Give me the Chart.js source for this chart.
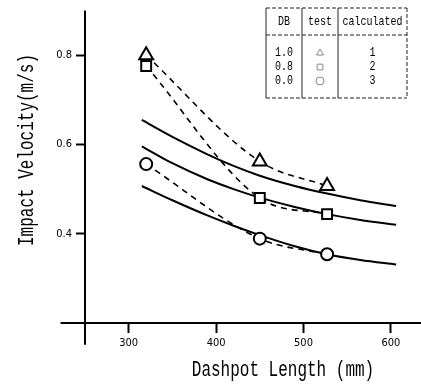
<!DOCTYPE html>
<html>
<head>
<meta charset="utf-8">
<script src="https://cdn.jsdelivr.net/npm/chart.js@4"></script>
<style>
  html, body { margin: 0; padding: 0; background: #fff; }
</style>
</head>
<body>
<canvas id="myChart" width="421" height="386"></canvas>
<script>
// measured points (dashed lines)
const testLength = [320, 450, 527];
const testDB10 = [0.800, 0.562, 0.507];
const testDB08 = [0.776, 0.480, 0.444];
const testDB00 = [0.556, 0.389, 0.354];

// calculated curves (solid lines)
const calcLength = [315, 350, 390, 420, 450, 490, 527, 565, 606];
const calc1 = [0.655, 0.617, 0.578, 0.552, 0.530, 0.507, 0.490, 0.475, 0.462];
const calc2 = [0.596, 0.558, 0.522, 0.500, 0.481, 0.460, 0.444, 0.431, 0.420];
const calc3 = [0.507, 0.475, 0.441, 0.418, 0.397, 0.372, 0.354, 0.341, 0.331];

const xTicks = [300, 400, 500, 600];
const yTicks = [0.4, 0.6, 0.8];

const tableHeader = ['DB', 'test', 'calculated'];
const tableDB = ['1.0', '0.8', '0.0'];
const tableMarks = ['triangle', 'rect', 'circle'];
const tableCalc = ['1', '2', '3'];

const mono = "'Liberation Mono', 'DejaVu Sans Mono', monospace";
const tickFont = { family: "'DejaVu Sans Condensed', 'Liberation Mono', monospace", size: 11 };

function pts(xs, ys) {
  return xs.map((x, i) => ({ x: x, y: ys[i] }));
}

function testSet(label, ys, style, radius) {
  return {
    label: label,
    data: pts(testLength, ys),
    showLine: true,
    borderColor: '#000',
    borderWidth: 1.6,
    borderDash: [6, 5],
    cubicInterpolationMode: 'monotone',
    pointStyle: style,
    pointRadius: radius,
    pointBorderWidth: 2,
    pointBorderColor: '#000',
    pointBackgroundColor: '#fff'
  };
}

function calcSet(label, ys) {
  return {
    label: label,
    data: pts(calcLength, ys),
    showLine: true,
    borderColor: '#000',
    borderWidth: 2,
    cubicInterpolationMode: 'monotone',
    pointRadius: 0
  };
}

// draws the axis lines, titles and the little table
const framePlugin = {
  id: 'frame',
  afterDraw(chart) {
    const ctx = chart.ctx;
    const xs = chart.scales.x;
    const ys = chart.scales.y;
    const x0 = xs.getPixelForValue(250);
    const y0 = ys.getPixelForValue(0.2);
    ctx.save();
    ctx.strokeStyle = '#000';
    ctx.lineWidth = 2;
    ctx.beginPath();
    ctx.moveTo(xs.getPixelForValue(222), y0);
    ctx.lineTo(chart.width, y0);
    ctx.moveTo(x0, ys.getPixelForValue(0.9));
    ctx.lineTo(x0, ys.getPixelForValue(0.151));
    ctx.stroke();

    // axis titles (tall, narrow type like the original)
    ctx.fillStyle = '#000';
    ctx.font = '16px ' + mono;
    ctx.textAlign = 'center';
    ctx.textBaseline = 'middle';
    ctx.save();
    ctx.translate(283, 370);
    ctx.scale(1, 1.4);
    ctx.fillText('Dashpot Length (mm)', 0, 0);
    ctx.restore();
    ctx.save();
    ctx.translate(27, 150);
    ctx.rotate(-Math.PI / 2);
    ctx.scale(1, 1.4);
    ctx.fillText('Impact Velocity(m/s)', 0, 0);
    ctx.restore();

    // table
    const L = 266, R = 407, T = 8, B = 98, H = 35;
    const c1 = 302, c2 = 338;
    ctx.lineWidth = 1;
    ctx.strokeStyle = '#222';
    ctx.setLineDash([4, 2]);
    ctx.beginPath();
    ctx.moveTo(L, T); ctx.lineTo(R, T);
    ctx.moveTo(L, H); ctx.lineTo(R, H);
    ctx.moveTo(L, B); ctx.lineTo(R, B);
    ctx.moveTo(R, T); ctx.lineTo(R, B);
    ctx.stroke();
    ctx.setLineDash([]);
    ctx.beginPath();
    ctx.moveTo(L, T); ctx.lineTo(L, B);
    ctx.moveTo(c1, T); ctx.lineTo(c1, B);
    ctx.moveTo(c2, T); ctx.lineTo(c2, B);
    ctx.stroke();

    ctx.font = '10px ' + mono;
    const cols = [(L + c1) / 2, (c1 + c2) / 2, (c2 + R) / 2];
    tableHeader.forEach((t, i) => {
      ctx.save();
      ctx.translate(cols[i], 22);
      ctx.scale(1, 1.3);
      ctx.fillText(t, 0, 0);
      ctx.restore();
    });
    const rows = [53, 67, 81];
    rows.forEach((ry, i) => {
      ctx.save();
      ctx.translate(cols[0], ry);
      ctx.scale(1, 1.3);
      ctx.fillText(tableDB[i], 0, 0);
      ctx.restore();
      ctx.save();
      ctx.translate(cols[2], ry);
      ctx.scale(1, 1.3);
      ctx.fillText(tableCalc[i], 0, 0);
      ctx.restore();
      ctx.save();
      ctx.strokeStyle = '#888';
      ctx.fillStyle = 'rgba(0,0,0,0)';
      ctx.lineWidth = 1;
      Chart.helpers.drawPoint(ctx, { pointStyle: tableMarks[i], radius: 4, rotation: 0, borderWidth: 1 }, cols[1], ry);
      ctx.restore();
    });
    ctx.restore();
  }
};

const ctx = document.getElementById('myChart').getContext('2d');

new Chart(ctx, {
  type: 'scatter',
  data: {
    datasets: [
      testSet('DB 1.0 test', testDB10, 'triangle', 8),
      testSet('DB 0.8 test', testDB08, 'rect', 7),
      testSet('DB 0.0 test', testDB00, 'circle', 6),
      calcSet('calculated 1', calc1),
      calcSet('calculated 2', calc2),
      calcSet('calculated 3', calc3)
    ]
  },
  options: {
    responsive: false,
    animation: false,
    devicePixelRatio: 1,
    layout: { padding: { top: 7, left: 0, right: 0, bottom: 0 } },
    plugins: {
      legend: { display: false },
      tooltip: { enabled: false }
    },
    scales: {
      x: {
        type: 'linear',
        min: 250,
        max: 623,
        afterBuildTicks: s => { s.ticks = xTicks.map(v => ({ value: v })); },
        afterFit: s => { s.height = 63; },
        ticks: { color: '#000', font: tickFont, padding: 4, maxRotation: 0, autoSkip: false },
        grid: { drawOnChartArea: false, tickLength: 10, tickWidth: 2, tickColor: '#000' },
        border: { display: false }
      },
      y: {
        min: 0.2,
        max: 0.9,
        afterBuildTicks: s => { s.ticks = yTicks.map(v => ({ value: v })); },
        afterFit: s => { s.width = 85; },
        ticks: { color: '#000', font: tickFont, padding: 4, callback: v => v.toFixed(1) },
        grid: { drawOnChartArea: false, tickLength: 9, tickWidth: 2, tickColor: '#000' },
        border: { display: false }
      }
    }
  },
  plugins: [framePlugin]
});
</script>
</body>
</html>
